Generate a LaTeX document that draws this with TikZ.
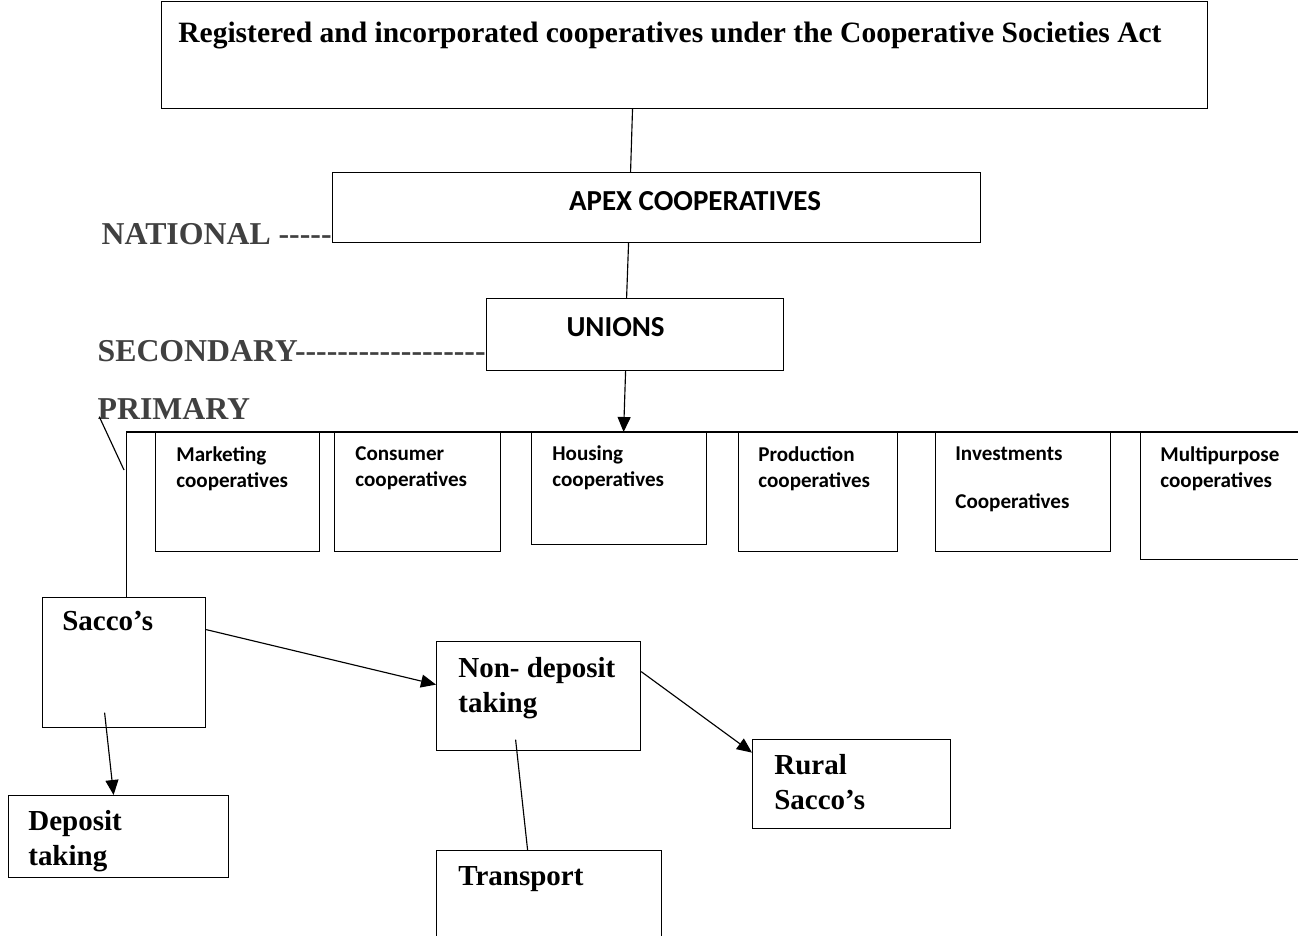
\documentclass[tikz,border=0pt]{standalone}
\usepackage{fontspec}
\setmainfont{Liberation Serif}
\newfontfamily\carlito{Carlito}
\usetikzlibrary{arrows.meta,positioning}
\newcommand{\dashrun}[1]{\foreach \k in {1,...,#1}{-{}}}

\begin{document}
\begin{tikzpicture}[
    x=0.02cm, y=-0.02cm,
    box/.style={rectangle, draw=black, line width=0.7pt, inner sep=0pt, anchor=north west},
    btext/.style={inner sep=0pt, align=left, font=\fontsize{16.5}{20}\selectfont\bfseries},
    stext/.style={inner sep=0pt, align=left, font=\carlito\fontsize{12}{15}\selectfont\bfseries},
    head/.style={inner sep=0pt, font=\carlito\fontsize{16.5}{20}\selectfont\bfseries},
    lvl/.style={inner sep=0pt, text=black!75, font=\fontsize{18.1}{21}\selectfont\bfseries},
    link/.style={line width=0.65pt},
    arr/.style={link, -{Triangle[length=3mm, width=2.6mm]}}
]
    \useasboundingbox (0,0) rectangle (1298,936);

    % Top level
    \node[box, minimum width=20.92cm, minimum height=2.14cm] (act) at (161,1) {};
    \node[btext, font=\fontsize{16.8}{20}\selectfont\bfseries, below right=0.42cm and 0.34cm of act.north west] (act-t) {Registered and incorporated cooperatives under the Cooperative Societies Act};

    \node[box, minimum width=12.96cm, minimum height=1.40cm] (apex) at (332,172) {};
    \node[head] (apex-t) at ([xshift=0.77cm, yshift=0.14cm]apex.center) {APEX COOPERATIVES};

    \node[box, minimum width=5.94cm, minimum height=1.44cm] (unions) at (486,298) {};
    \node[head] (unions-t) at ([xshift=-0.39cm, yshift=0.16cm]unions.center) {UNIONS};

    % Levels
    \node[lvl, anchor=base east] (nat) at ([yshift=-0.02cm]apex.south west) {NATIONAL \dashrun{5}};
    \node[lvl, anchor=base east] (sec) at ([yshift=0.2cm]unions.south west) {SECONDARY\dashrun{18}};
    \node[lvl, anchor=base west] (prim) at ([yshift=-1.16cm]sec.base west) {PRIMARY};

    % Primary cooperatives
    \node[box, minimum width=3.28cm, minimum height=2.38cm] (mkt) at (155,432) {};
    \node[box, minimum width=3.32cm, minimum height=2.38cm] (cons) at (334,432) {};
    \node[box, minimum width=3.50cm, minimum height=2.24cm] (hous) at (531,432) {};
    \node[box, minimum width=3.18cm, minimum height=2.38cm] (prod) at (738,432) {};
    \node[box, minimum width=3.50cm, minimum height=2.38cm] (inv) at (935,432) {};
    \node[box, minimum width=3.20cm, minimum height=2.54cm] (multi) at (1140,432) {};

    \node[stext, below right=0.28cm and 0.42cm of mkt.north west] (mkt-t) {Marketing\\cooperatives};
    \node[stext, below right=0.28cm and 0.42cm of cons.north west] (cons-t) {Consumer\\cooperatives};
    \node[stext, below right=0.26cm and 0.42cm of hous.north west] (hous-t) {Housing\\cooperatives};
    \node[stext, below right=0.28cm and 0.40cm of prod.north west] (prod-t) {Production\\cooperatives};
    \node[stext, below right=0.28cm and 0.40cm of inv.north west] (inv-t) {Investments\\[0.44cm]Cooperatives};
    \node[stext, below right=0.28cm and 0.40cm of multi.north west] (multi-t) {Multipurpose\\cooperatives};

    % Sacco's
    \node[box, minimum width=3.26cm, minimum height=2.60cm] (sacco) at (42,597) {};
    \node[box, minimum width=4.08cm, minimum height=2.18cm] (nondep) at (436,641) {};
    \node[box, minimum width=4.40cm, minimum height=1.64cm] (depo) at (8,795) {};
    \node[box, minimum width=3.96cm, minimum height=1.78cm] (rural) at (752,739) {};
    \node[box, minimum width=4.50cm, minimum height=2.20cm] (trans) at (436,850) {};

    \node[btext, below right=0.28cm and 0.40cm of sacco.north west] (sacco-t) {Sacco’s};
    \node[btext, below right=0.32cm and 0.44cm of nondep.north west] (nondep-t) {Non- deposit\\taking};
    \node[btext, below right=0.30cm and 0.40cm of depo.north west] (depo-t) {Deposit\\taking};
    \node[btext, below right=0.30cm and 0.44cm of rural.north west] (rural-t) {Rural\\Sacco’s};
    \node[btext, below right=0.32cm and 0.44cm of trans.north west] (trans-t) {Transport};

    % Connectors
    \draw[link] ([xshift=-1.04cm]act.south) -- ([xshift=-0.52cm]apex.north);
    \draw[link] ([xshift=-0.56cm]apex.south) -- ([xshift=-0.17cm]unions.north);
    \draw[arr] ([xshift=-0.19cm]unions.south) -- ([xshift=0.09cm]hous.north);

    \coordinate (pfoot) at (124,470);
    \draw[link] ([xshift=0.04cm, yshift=0.05cm]prim.base west) -- (pfoot);
    \draw[link] ([xshift=0.05cm]sacco.north) |- (multi.north east);

    \draw[arr] ([yshift=0.66cm]sacco.east) -- ([yshift=0.23cm]nondep.west);
    \draw[arr] ([xshift=-0.39cm, yshift=-1.0cm]sacco.center) -- ([xshift=-0.1cm]depo.north);
    \draw[arr] ([yshift=0.49cm]nondep.east) -- ([yshift=0.63cm]rural.west);
    \draw[link] ([xshift=-0.46cm, yshift=-0.87cm]nondep.center) -- ([xshift=-0.43cm]trans.north);
\end{tikzpicture}
\end{document}
